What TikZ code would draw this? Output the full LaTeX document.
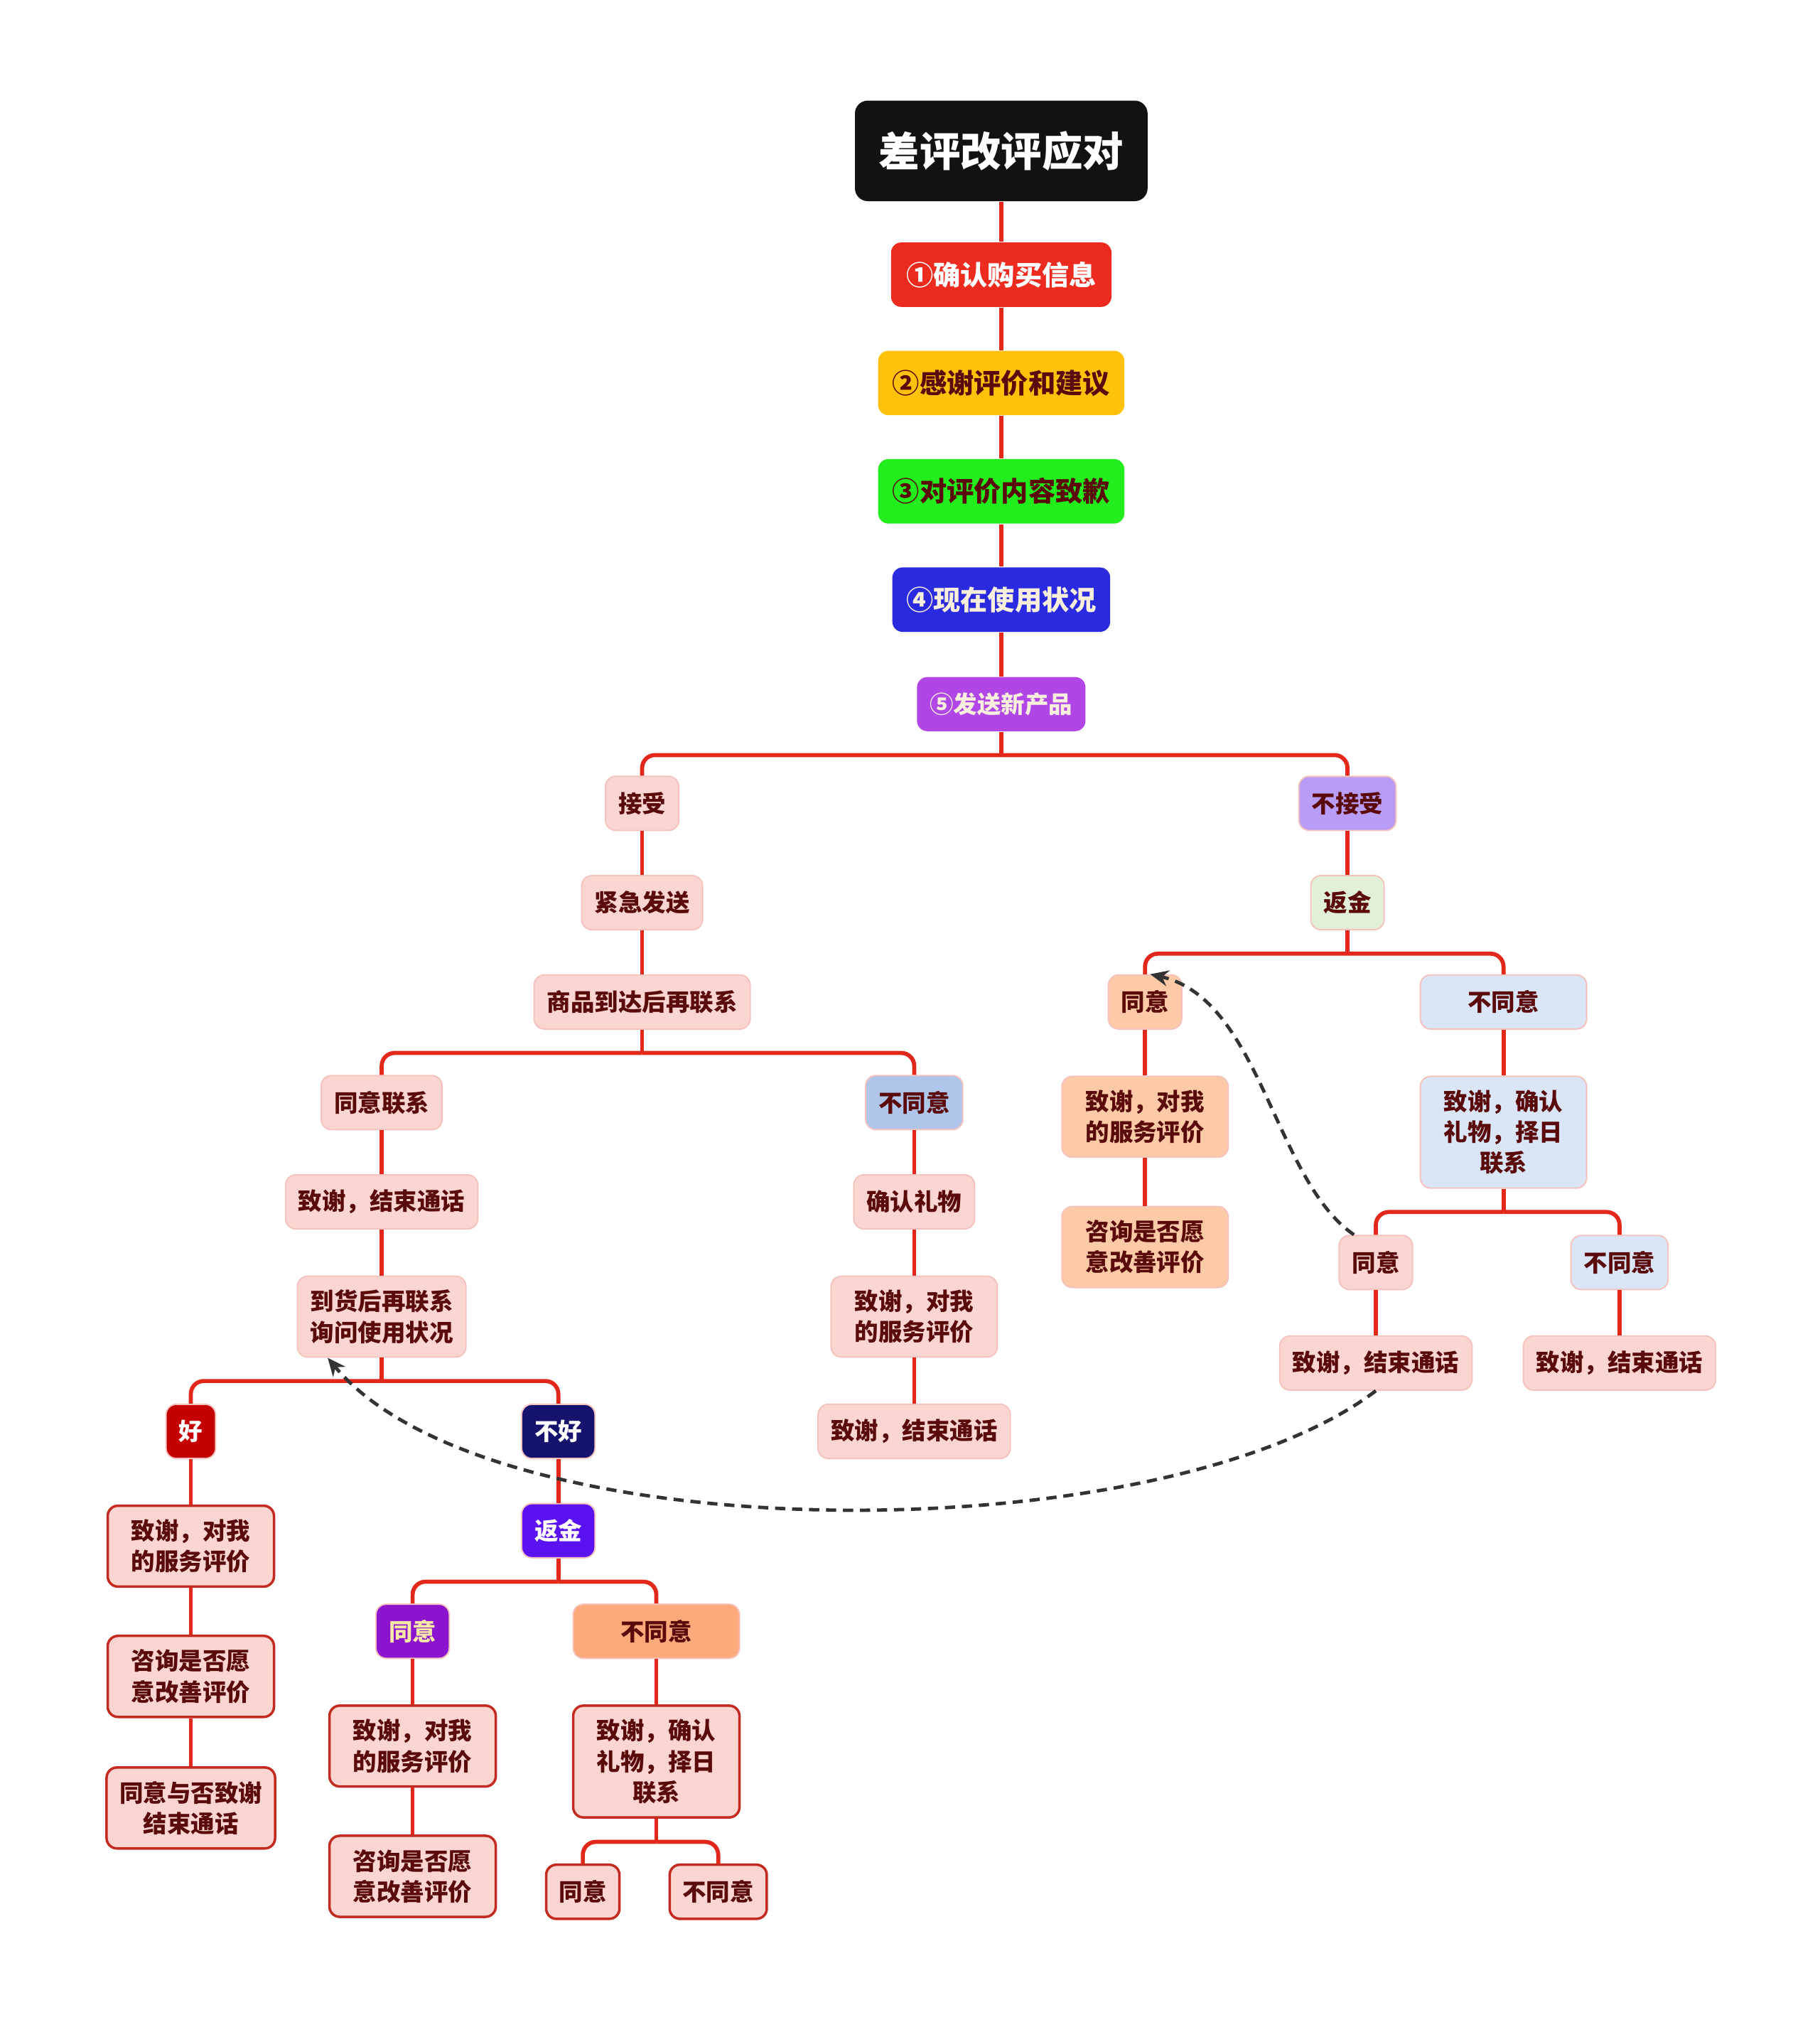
\documentclass[tikz,border=0pt]{standalone}
\usepackage{fontspec}
\setmainfont{Noto Sans CJK SC}[BoldFont={Noto Sans CJK SC Black}]
\usetikzlibrary{arrows.meta}

\definecolor{linkred}{HTML}{E2271B}
\definecolor{txt}{HTML}{5A0A0A}
\definecolor{pk}{HTML}{FAD5D1}
\definecolor{pkline}{HTML}{F5C2BD}
\definecolor{bdr}{HTML}{C42A20}
\definecolor{lav}{HTML}{B99CF5}
\definecolor{lgreen}{HTML}{E2F0D9}
\definecolor{peach}{HTML}{FCCAA7}
\definecolor{lblue}{HTML}{DAE5F5}
\definecolor{mblue}{HTML}{AFC6EA}
\definecolor{goodred}{HTML}{C40000}
\definecolor{navy}{HTML}{15136E}
\definecolor{violet}{HTML}{5A12F0}
\definecolor{purp}{HTML}{8C14CE}
\definecolor{orng}{HTML}{FCAA7C}
\definecolor{stepA}{HTML}{EC2A1E}
\definecolor{stepB}{HTML}{FFC10A}
\definecolor{stepC}{HTML}{22EE1E}
\definecolor{stepD}{HTML}{2A2AE0}
\definecolor{stepE}{HTML}{B046E6}
\definecolor{cream}{HTML}{F8EEDC}
\definecolor{lemon}{HTML}{F8E8A8}

\begin{document}
\begin{tikzpicture}[x=0.02cm,y=-0.02cm]
        \tikzset{
          box/.style={rounded corners=0.16cm, font=\bfseries\fontsize{10.5}{13.6}\selectfont,
            text=txt, align=center, inner xsep=0.2cm, inner ysep=6pt, minimum height=0.84cm,
            fill=pk, draw=pkline, line width=0.6pt},
          wide/.style={minimum width=2.58cm},
          framed/.style={box, draw=bdr, line width=1.1pt},
          stepbox/.style={box, font=\bfseries\fontsize{12}{14}\selectfont, minimum height=1cm, draw=none},
          link/.style={draw=linkred, line width=1.8pt},
          backlink/.style={draw=black!80, line width=1.5pt, dash pattern=on 4.5pt off 3pt, -{Stealth[length=8pt,width=7pt]}}
        }
        \useasboundingbox (0,0) rectangle (1411,1568);

        % trunk
        \node[box, fill=black!93, draw=none, text=white, font=\bfseries\fontsize{18}{20}\selectfont,
          minimum width=4.54cm, minimum height=1.56cm, rounded corners=0.2cm] (root) at (776.5,117) {差评改评应对};
        \node[stepbox, fill=stepA, text=white, minimum width=3.42cm] (s1) at (776.5,213) {①确认购买信息};
        \node[stepbox, fill=stepB, minimum width=3.82cm] (s2) at (776.5,297) {②感谢评价和建议};
        \node[stepbox, fill=stepC, minimum width=3.82cm] (s3) at (776.5,381) {③对评价内容致歉};
        \node[stepbox, fill=stepD, text=cream, minimum width=3.38cm] (s4) at (776.5,465) {④现在使用状况};
        \node[box, fill=stepE, draw=none, text=cream, minimum width=2.58cm] (s5) at (776.5,546) {⑤发送新产品};

        % accept side
        \node[box] (acc) at (498,623) {接受};
        \node[box] (urg) at (498,700) {紧急发送};
        \node[box] (arr) at (498,777) {商品到达后再联系};
        \node[box] (agc) at (296,855) {同意联系};
        \node[box, fill=mblue] (dis) at (709,855) {不同意};
        \node[box] (bye1) at (296,932) {致谢，结束通话};
        \node[box, wide] (ask) at (296,1021) {到货后再联系\\询问使用状况};
        \node[box] (gift) at (709,932) {确认礼物};
        \node[box, wide] (d1) at (709,1021) {致谢，对我\\的服务评价};
        \node[box] (d2) at (709,1110) {致谢，结束通话};

        \node[box, fill=goodred, text=white] (good) at (148,1110) {好};
        \node[box, fill=navy, text=white] (bad) at (433,1110) {不好};
        \node[framed, wide] (g1) at (148,1199) {致谢，对我\\的服务评价};
        \node[framed, wide] (g2) at (148,1300) {咨询是否愿\\意改善评价};
        \node[framed, wide] (g3) at (148,1402) {同意与否致谢\\结束通话};
        \node[box, fill=violet, text=white] (ref2) at (433,1187) {返金};
        \node[box, fill=purp, text=lemon] (ok2) at (320,1265) {同意};
        \node[box, wide, fill=orng] (no2) at (509,1265) {不同意};
        \node[framed, wide] (o1) at (320,1354) {致谢，对我\\的服务评价};
        \node[framed, wide] (o2) at (320,1455) {咨询是否愿\\意改善评价};
        \node[framed, wide] (n1) at (509,1366) {致谢，确认\\礼物，择日\\联系};
        \node[framed] (n1ok) at (452,1467) {同意};
        \node[framed] (n1no) at (557,1467) {不同意};

        % refuse side
        \node[box, fill=lav] (rej) at (1045,623) {不接受};
        \node[box, fill=lgreen] (ref) at (1045,700) {返金};
        \node[box, fill=peach] (rok) at (888,777) {同意};
        \node[box, wide, fill=lblue] (rno) at (1166,777) {不同意};
        \node[box, wide, fill=peach] (r1) at (888,866) {致谢，对我\\的服务评价};
        \node[box, wide, fill=peach] (r2) at (888,967) {咨询是否愿\\意改善评价};
        \node[box, wide, fill=lblue] (r3) at (1166,878) {致谢，确认\\礼物，择日\\联系};
        \node[box] (r3ok) at (1067,979) {同意};
        \node[box, fill=lblue] (r3no) at (1256,979) {不同意};
        \node[box] (r4) at (1067,1057) {致谢，结束通话};
        \node[box] (r5) at (1256,1057) {致谢，结束通话};

        % straight links
        \foreach \a/\b in {root/s1, s1/s2, s2/s3, s3/s4, s4/s5, acc/urg, urg/arr, agc/bye1, bye1/ask,
            dis/gift, gift/d1, d1/d2, good/g1, g1/g2, g2/g3, bad/ref2, ok2/o1, o1/o2, no2/n1,
            rej/ref, rok/r1, r1/r2, rno/r3, r3ok/r4, r3no/r5}
          \draw[link] (\a.south) -- (\b.north);

        % forks
        \foreach \p/\kids in {s5/{acc,rej}, arr/{agc,dis}, ask/{good,bad}, ref2/{ok2,no2},
            n1/{n1ok,n1no}, ref/{rok,rno}, r3/{r3ok,r3no}} {
          \draw[link] (\p.south) -- ([yshift=-0.36cm]\p.south);
          \foreach \c in \kids
            \draw[link, rounded corners=0.2cm] ([yshift=-0.36cm]\p.south) -| (\c.north);
        }

        % dashed back references
        \draw[backlink] (r4.south) .. controls (900,1205) and (380,1205) .. ([xshift=0.48cm]ask.south west);
        \draw[backlink] ([xshift=0.24cm]r3ok.north west) .. controls (988,915) and (978,775) .. ([xshift=0.08cm]rok.north);
\end{tikzpicture}
\end{document}
